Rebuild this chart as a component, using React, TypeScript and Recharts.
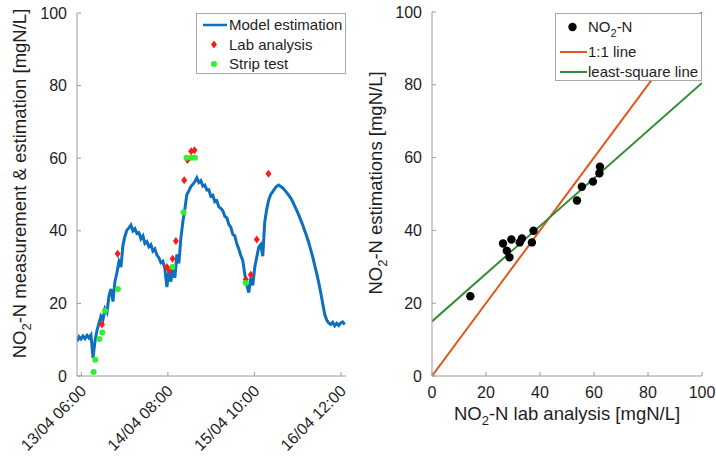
import React from 'react';
import { ComposedChart, Line, Scatter, XAxis, YAxis, Legend, Label } from 'recharts';

const FONT = '"Liberation Sans", Arial, Helvetica, sans-serif';

// left panel: time in hours since 13/04 00:00, NO2-N in mgN/L
const modelEstimation: [number, number][] = [
  [4.7, 9.5], [5.3, 10.8], [5.9, 10.2], [6.5, 11], [7.1, 10.3], [7.7, 11.2], [8.3, 10.5], [8.9, 11.3],
  [9.5, 5], [10.1, 9.5], [10.7, 12.6], [11.3, 14.5], [11.9, 16.5], [12.5, 15.5], [13.1, 18.5], [13.7, 17.5],
  [14.3, 22], [14.9, 24], [15.5, 20.5], [16.1, 26], [16.7, 28.5], [17.3, 31.5], [17.9, 30], [18.5, 36],
  [19.1, 38.5], [19.7, 40.2], [20.3, 40.8], [20.9, 41.6], [21.5, 40], [22.1, 40.6], [22.7, 39.3], [23.3, 39.5],
  [23.9, 37.8], [24.5, 38.6], [25.1, 36.5], [25.7, 37], [26.3, 35.6], [26.9, 36.2], [27.5, 34.4], [28.1, 35],
  [28.7, 33.3], [29.3, 32.6], [29.9, 31.2], [30.5, 31.6], [31.1, 29.5], [31.7, 24.5], [32.3, 29], [32.9, 26],
  [33.5, 29.8], [34.1, 27], [34.7, 33.5], [35.3, 31], [35.9, 38], [36.5, 42.5], [37.1, 46], [37.7, 50],
  [38.3, 51], [38.9, 52.2], [39.5, 52.8], [40.1, 53.5], [40.7, 54.6], [41.3, 53.3], [41.9, 53.8], [42.5, 52.3],
  [43.1, 52.6], [43.7, 51.2], [44.3, 51.3], [44.9, 49.6], [45.5, 49.8], [46.1, 48], [46.7, 48.3], [47.3, 46.6],
  [47.9, 46.2], [48.5, 45.5], [49.1, 44], [49.7, 43.6], [50.3, 41.8], [50.9, 41], [51.5, 39], [52.1, 38.6],
  [52.7, 36.4], [53.3, 35], [53.9, 33.2], [54.5, 31.8], [55.1, 28], [55.7, 25], [56.3, 23], [56.9, 27],
  [57.5, 25], [58.1, 30], [58.7, 32.8], [59.3, 35.5], [59.9, 36.2], [60.5, 33], [61.1, 42.5], [61.7, 46],
  [62.3, 48.6], [62.9, 50], [63.5, 50.8], [64.1, 51.6], [64.7, 52.3], [65.3, 52.6], [65.9, 52.2], [66.5, 51.8],
  [67.1, 51.2], [67.7, 50.5], [68.3, 49.8], [68.9, 49], [69.5, 48], [70.1, 46.8], [70.7, 45.6], [71.3, 44.4],
  [71.9, 43], [72.5, 41.6], [73.1, 40], [73.7, 38.5], [74.3, 36.8], [74.9, 34.8], [75.5, 32.8], [76.1, 30.5],
  [76.7, 28.2], [77.3, 25.8], [77.9, 23], [78.5, 20], [79.1, 17], [79.7, 15.4], [80.3, 14.6], [80.9, 14.2],
  [81.5, 14.8], [82.1, 13.8], [82.7, 14.5], [83.3, 13.9], [83.9, 14.6], [84.5, 14.9], [85.1, 14.2],
];

const labAnalysis: [number, number][] = [
  [12.2, 14.2], [16.9, 33.7], [31.7, 30], [32.5, 29.1], [33.4, 32.3], [34.4, 37.2], [36.9, 53.9],
  [37.9, 59.5], [39, 61.9], [40, 62.2], [55.4, 26.6], [56.9, 27.9], [58.7, 37.6], [62.2, 55.7],
];

const stripTest: [number, number][] = [
  [9.7, 1.1], [10.2, 4.5], [11.4, 10.2], [12.3, 12], [13.1, 18], [17, 24], [33.4, 30],
  [36.7, 45.1], [37.6, 60.1], [39, 60.1], [40.1, 60.1], [55.4, 25.6],
];

const timeTicks = [6, 32, 58, 84];
const timeTickLabels = ['13/04 06:00', '14/04 08:00', '15/04 10:00', '16/04 12:00'];
const concTicks = [0, 20, 40, 60, 80, 100];

// right panel: lab analysis vs model estimation
const labVsEstimate: [number, number][] = [
  [14.2, 21.9], [26.3, 36.4], [27.7, 34.4], [28.7, 32.6], [29.4, 37.5], [32.5, 36.7], [33.3, 37.8],
  [37, 36.7], [37.6, 39.9], [53.7, 48.2], [55.5, 52], [59.6, 53.4], [62, 55.7], [62.2, 57.5],
];
const oneToOneLine: [number, number][] = [[0, 0], [100, 100]];
const leastSquareLine: [number, number][] = [[0, 15], [100, 80.5]];

const C = {
  model: '#0f6fbf',
  lab: '#ff1a1a',
  strip: '#2ef02e',
  dots: '#000000',
  oneToOne: '#e2571c',
  lsq: '#2e8f36',
  axis: '#9c9c9c',
  text: '#1e1e1e',
};

const toTime = (rows: [number, number][]) => rows.map(([t, v]) => ({ t, v }));
const toXY = (rows: [number, number][]) => rows.map(([x, y]) => ({ x, y }));

function ValueTick({ x, y, payload }: any) {
  const axisX = x + 10;
  return (
    <g>
      <line x1={axisX} x2={axisX + 4} y1={y} y2={y} stroke={C.axis} />
      <text x={x} y={y} dy="0.35em" textAnchor="end" fontSize={16} fontFamily={FONT} fill={C.text}>
        {payload.value}
      </text>
    </g>
  );
}

function TimeTick({ x, y, payload }: any) {
  const axisY = y - 10;
  const label = timeTickLabels[timeTicks.indexOf(payload.value)];
  return (
    <g>
      <line x1={x} x2={x} y1={axisY} y2={axisY - 4} stroke={C.axis} />
      <text
        transform={`translate(${x + 6},${axisY + 16}) rotate(-45)`}
        textAnchor="end"
        fontSize={16}
        fontFamily={FONT}
        fill={C.text}
      >
        {label}
      </text>
    </g>
  );
}

function LabTick({ x, y, payload }: any) {
  const axisY = y - 10;
  return (
    <g>
      <line x1={x} x2={x} y1={axisY} y2={axisY - 4} stroke={C.axis} />
      <text x={x} y={axisY + 22} textAnchor="middle" fontSize={16} fontFamily={FONT} fill={C.text}>
        {payload.value}
      </text>
    </g>
  );
}

const Diamond = ({ cx, cy }: any) => (
  <polygon points={`${cx},${cy - 4} ${cx + 3},${cy} ${cx},${cy + 4} ${cx - 3},${cy}`} fill={C.lab} />
);
const GreenDot = ({ cx, cy }: any) => <circle cx={cx} cy={cy} r={3} fill={C.strip} />;
const BlackDot = ({ cx, cy }: any) => <circle cx={cx} cy={cy} r={4.2} fill={C.dots} />;

function TimeLegend() {
  return (
    <svg width={150} height={61} style={{ display: 'block' }}>
      <rect x={0.5} y={0.5} width={149} height={60} fill="#fff" stroke="#a8a8a8" />
      <line x1={7} x2={31} y1={12} y2={12} stroke={C.model} strokeWidth={2.5} />
      <text x={33} y={12} dy="0.35em" fontSize={15} fontFamily={FONT} fill={C.text}>Model estimation</text>
      <Diamond cx={18} cy={31.5} />
      <text x={33} y={31.5} dy="0.35em" fontSize={15} fontFamily={FONT} fill={C.text}>Lab analysis</text>
      <GreenDot cx={18} cy={51} />
      <text x={33} y={51} dy="0.35em" fontSize={15} fontFamily={FONT} fill={C.text}>Strip test</text>
    </svg>
  );
}

function ParityLegend() {
  return (
    <svg width={147} height={68} style={{ display: 'block' }}>
      <rect x={0.5} y={0.5} width={146} height={67} fill="#fff" stroke="#a8a8a8" />
      <circle cx={17.5} cy={14} r={4.2} fill={C.dots} />
      <text x={33} y={14} dy="0.35em" fontSize={15} fontFamily={FONT} fill={C.text}>
        NO<tspan dy={5} fontSize={11}>2</tspan>
        <tspan dy={-5}>-N</tspan>
      </text>
      <line x1={5} x2={32} y1={39} y2={39} stroke={C.oneToOne} strokeWidth={2} />
      <text x={33} y={39} dy="0.35em" fontSize={15} fontFamily={FONT} fill={C.text}>1:1 line</text>
      <line x1={5} x2={32} y1={59} y2={59} stroke={C.lsq} strokeWidth={2} />
      <text x={33} y={59} dy="0.35em" fontSize={15} fontFamily={FONT} fill={C.text}>least-square line</text>
    </svg>
  );
}

function VerticalTitle({ viewBox, dx, rest }: any) {
  const { x, y, height } = viewBox;
  const cx = x + dx;
  const cy = y + height / 2 - 11;
  return (
    <text
      transform={`translate(${cx},${cy}) rotate(-90)`}
      textAnchor="middle"
      fontSize={18.5}
      fontFamily={FONT}
      fill={C.text}
    >
      NO<tspan dy={5} fontSize={13}>2</tspan>
      <tspan dy={-5}>{rest}</tspan>
    </text>
  );
}

function BottomTitle({ viewBox }: any) {
  const { x, y, width } = viewBox;
  return (
    <text x={x + width / 2} y={y + 44} textAnchor="middle" fontSize={18.5} fontFamily={FONT} fill={C.text}>
      NO<tspan dy={5} fontSize={13}>2</tspan>
      <tspan dy={-5}>-N lab analysis [mgN/L]</tspan>
    </text>
  );
}

export default function App() {
  const model = toTime(modelEstimation);
  const lab = toTime(labAnalysis);
  const strip = toTime(stripTest);
  const parity = toXY(labVsEstimate);
  const oneToOne = toXY(oneToOneLine);
  const lsq = toXY(leastSquareLine);

  return (
    <div style={{ position: 'absolute', left: 0, top: 0, width: 716, height: 456, background: '#fff' }}>
      <div style={{ position: 'absolute', left: 0, top: 0 }}>
        <ComposedChart width={360} height={456} data={model} margin={{ top: 13, right: 14, bottom: 10, left: 0 }}>
          <XAxis
            dataKey="t"
            type="number"
            domain={[4.7, 85.5]}
            allowDataOverflow
            ticks={timeTicks}
            interval={0}
            height={70}
            tickSize={8}
            tickMargin={2}
            tickLine={false}
            stroke={C.axis}
            tick={<TimeTick />}
          />
          <YAxis
            type="number"
            domain={[0, 100]}
            allowDataOverflow
            ticks={concTicks}
            interval={0}
            width={77}
            tickSize={8}
            tickMargin={2}
            tickLine={false}
            stroke={C.axis}
            tick={<ValueTick />}
          >
            <Label content={(p: any) => <VerticalTitle {...p} dx={26} rest="-N measurement & estimation [mgN/L]" />} />
          </YAxis>
          <Line dataKey="v" type="linear" stroke={C.model} strokeWidth={3} dot={false} isAnimationActive={false} />
          <Scatter data={lab} dataKey="v" shape={<Diamond />} isAnimationActive={false} />
          <Scatter data={strip} dataKey="v" shape={<GreenDot />} isAnimationActive={false} />
          <Legend
            layout="horizontal"
            verticalAlign="middle"
            align="center"
            content={() => <TimeLegend />}
            wrapperStyle={{ left: 196, top: 13, width: 150, height: 61 }}
          />
        </ComposedChart>
      </div>

      <div style={{ position: 'absolute', left: 360, top: 0 }}>
        <ComposedChart width={356} height={456} margin={{ top: 12, right: 14, bottom: 10, left: 0 }}>
          <XAxis
            dataKey="x"
            type="number"
            domain={[0, 100]}
            allowDataOverflow
            ticks={concTicks}
            interval={0}
            height={70}
            tickSize={8}
            tickMargin={2}
            tickLine={false}
            stroke={C.axis}
            tick={<LabTick />}
          >
            <Label content={(p: any) => <BottomTitle {...p} />} />
          </XAxis>
          <YAxis
            type="number"
            domain={[0, 100]}
            allowDataOverflow
            ticks={concTicks}
            interval={0}
            width={72}
            tickSize={8}
            tickMargin={2}
            tickLine={false}
            stroke={C.axis}
            tick={<ValueTick />}
          >
            <Label content={(p: any) => <VerticalTitle {...p} dx={22} rest="-N estimations [mgN/L]" />} />
          </YAxis>
          <Scatter data={parity} dataKey="y" shape={<BlackDot />} isAnimationActive={false} />
          <Line data={oneToOne} dataKey="y" type="linear" stroke={C.oneToOne} strokeWidth={2} dot={false} isAnimationActive={false} />
          <Line data={lsq} dataKey="y" type="linear" stroke={C.lsq} strokeWidth={2} dot={false} isAnimationActive={false} />
          <Legend
            layout="horizontal"
            verticalAlign="middle"
            align="center"
            content={() => <ParityLegend />}
            wrapperStyle={{ left: 195, top: 13, width: 147, height: 68 }}
          />
        </ComposedChart>
      </div>
    </div>
  );
}
